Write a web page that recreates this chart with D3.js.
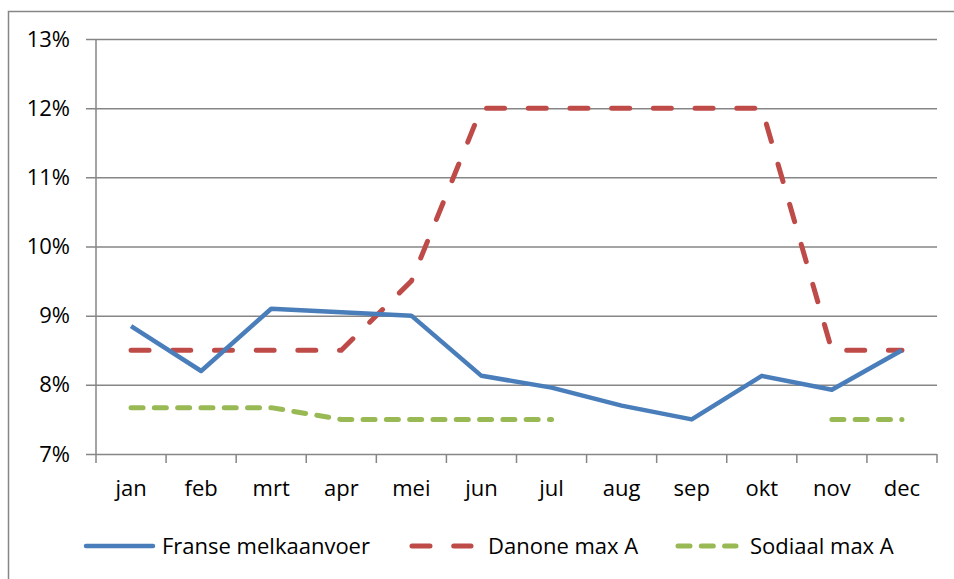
<!DOCTYPE html>
<html>
<head>
<meta charset="utf-8">
<script src="https://cdn.jsdelivr.net/npm/d3@7"></script>
<style>
  body { margin: 0; background: #fff; }
  text { font-family: "Open Sans", "Noto Sans", sans-serif; fill: #000; }
</style>
</head>
<body>
<script>
const months = ["jan", "feb", "mrt", "apr", "mei", "jun", "jul", "aug", "sep", "okt", "nov", "dec"];
const yTicks = [0.07, 0.08, 0.09, 0.10, 0.11, 0.12, 0.13];

const franse = [0.0885, 0.0820, 0.0910, 0.0905, 0.0900, 0.0813, 0.0796, 0.0770, 0.0750, 0.0813, 0.0793, 0.0850];
const danone = [0.085, 0.085, 0.085, 0.085, 0.095, 0.12, 0.12, 0.12, 0.12, 0.12, 0.085, 0.085];
const sodiaal = [0.0767, 0.0767, 0.0767, 0.075, 0.075, 0.075, 0.075, null, null, null, 0.075, 0.075];

const seriesNames = ["Franse melkaanvoer", "Danone max A", "Sodiaal max A"];
const seriesColors = ["#4a7ebb", "#be4b48", "#98b954"];

const W = 954, H = 579;
const margin = { top: 39, right: 17, bottom: 125, left: 96 };
const w = W - margin.left - margin.right;
const h = H - margin.top - margin.bottom;

const svg = d3.select("body").append("svg")
    .attr("width", W)
    .attr("height", H);

// outer frame (only top and left edges are visible)
svg.append("path")
    .attr("d", `M8.5,${H}V11.5H${W}`)
    .attr("fill", "none")
    .attr("stroke", "#868686")
    .attr("stroke-width", 1.5);

const g = svg.append("g")
    .attr("transform", `translate(${margin.left},${margin.top})`);

const x = d3.scaleBand().domain(months).range([0, w]);
const y = d3.scaleLinear().domain([0.07, 0.13]).range([h, 0]);

// gridlines + y axis
const yAxis = d3.axisLeft(y)
    .tickValues(yTicks)
    .tickFormat(d3.format(".0%"))
    .tickSize(-w)
    .tickPadding(16);

g.append("g")
    .attr("class", "y-axis")
    .call(yAxis)
    .call(s => s.select(".domain").remove())
    .call(s => s.selectAll(".tick line")
        .attr("x1", -10)
        .attr("stroke", "#868686")
        .attr("stroke-width", 1.5))
    .call(s => s.selectAll(".tick text")
        .style("font-size", "22px")
        .attr("x", -26));

g.append("line")
    .attr("x1", 0).attr("x2", 0)
    .attr("y1", 0).attr("y2", h)
    .attr("stroke", "#868686")
    .attr("stroke-width", 1.5);

// x axis
const xAxis = d3.axisBottom(x).tickSize(0).tickPadding(26);
g.append("g")
    .attr("class", "x-axis")
    .attr("transform", `translate(0,${h})`)
    .call(xAxis)
    .call(s => s.select(".domain").remove())
    .call(s => s.selectAll(".tick text").style("font-size", "22px"));

// x tick marks at band edges
g.append("g")
    .selectAll("line")
    .data(months.concat(["end"]))
    .join("line")
    .attr("x1", (d, i) => i < months.length ? x(d) : w)
    .attr("x2", (d, i) => i < months.length ? x(d) : w)
    .attr("y1", h)
    .attr("y2", h + 9)
    .attr("stroke", "#868686")
    .attr("stroke-width", 1.5);

const line = d3.line()
    .defined(d => d.v !== null)
    .x(d => x(d.m) + x.bandwidth() / 2)
    .y(d => y(d.v));

const toPts = arr => arr.map((v, i) => ({ m: months[i], v }));

g.append("path")
    .datum(toPts(sodiaal))
    .attr("d", line)
    .attr("fill", "none")
    .attr("stroke", seriesColors[2])
    .attr("stroke-width", 5)
    .attr("stroke-linecap", "round")
    .attr("stroke-dasharray", "12,11.3");

g.append("path")
    .datum(toPts(danone))
    .attr("d", line)
    .attr("fill", "none")
    .attr("stroke", seriesColors[1])
    .attr("stroke-width", 5)
    .attr("stroke-linecap", "round")
    .attr("stroke-dasharray", "18,23.7");

g.append("path")
    .datum(toPts(franse))
    .attr("d", line)
    .attr("fill", "none")
    .attr("stroke", seriesColors[0])
    .attr("stroke-width", 4.5)
    .attr("stroke-linejoin", "round");

// legend
const legendY = 546;
const legendItems = [
    { x0: 86, x1: 153, tx: 162, dash: null },
    { x0: 412, x1: 471, tx: 488, dash: "18,23.7" },
    { x0: 678, x1: 736, tx: 750, dash: "12,11.3" }
];

const legend = svg.append("g").attr("class", "legend");
legendItems.forEach((it, i) => {
    legend.append("line")
        .attr("x1", it.x0).attr("x2", it.x1)
        .attr("y1", legendY).attr("y2", legendY)
        .attr("stroke", seriesColors[i])
        .attr("stroke-width", i === 0 ? 4.5 : 5)
        .attr("stroke-linecap", "round")
        .attr("stroke-dasharray", it.dash);
    legend.append("text")
        .attr("x", it.tx)
        .attr("y", legendY)
        .attr("dy", "0.35em")
        .style("font-size", "22px")
        .text(seriesNames[i]);
});
</script>
</body>
</html>
